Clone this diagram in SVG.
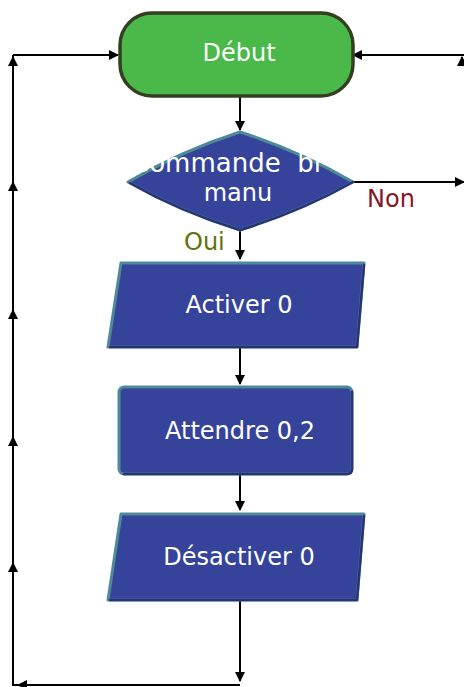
<svg xmlns="http://www.w3.org/2000/svg" width="464" height="687" viewBox="0 0 464 687">
  <style>
    .lbl { font-family: "DejaVu Sans", Verdana, sans-serif; font-size: 24px; fill: #ffffff; text-anchor: middle; }
    .blue { fill: #35439b; stroke: #4f8a98; stroke-width: 3; stroke-linejoin: round; }
    .shade { fill: none; stroke: #2a3275; stroke-width: 2.5; stroke-linecap: round; }
    .wire { fill: none; stroke: #000; stroke-width: 2; }
    .side { font-family: "DejaVu Sans", Verdana, sans-serif; font-size: 24px; }
  </style>
  <defs>
    <marker id="arr" viewBox="0 0 10 10" refX="9" refY="5" markerWidth="5" markerHeight="5" orient="auto">
      <path d="M0,0 L10,5 L0,10 z" fill="#000"/>
    </marker>
  </defs>
  <rect width="464" height="687" fill="#fff"/>

  <g id="connectors">
    <!-- loop-back along the left edge -->
    <path class="wire" d="M240,600 V680"/>
    <path class="wire" d="M240,685 H13 V55"/>
    <path class="wire" marker-end="url(#arr)" d="M13,55 H118"/>
    <path class="wire" marker-end="url(#arr)" d="M13,200 V182"/>
    <path class="wire" marker-end="url(#arr)" d="M13,330 V310"/>
    <path class="wire" marker-end="url(#arr)" d="M13,455 V437"/>
    <path class="wire" marker-end="url(#arr)" d="M13,580 V563"/>
    <path class="wire" marker-end="url(#arr)" d="M13,72 V57"/>
    <path class="wire" marker-end="url(#arr)" d="M30,685 H18"/>
    <path class="wire" marker-end="url(#arr)" d="M240,640 V681"/>
    <!-- right return into Début -->
    <path class="wire" marker-end="url(#arr)" d="M464,55 H353"/>
    <path class="wire" marker-end="url(#arr)" d="M462,66 V57"/>
    <!-- main flow -->
    <path class="wire" marker-end="url(#arr)" d="M240,96 V130"/>
    <path class="wire" marker-end="url(#arr)" d="M353,182 H464"/>
    <path class="wire" marker-end="url(#arr)" d="M240,230 V259"/>
    <path class="wire" marker-end="url(#arr)" d="M240,347 V384"/>
    <path class="wire" marker-end="url(#arr)" d="M240,474 V510"/>
  </g>

  <g id="debut">
    <rect x="120" y="13" width="233" height="83" rx="32" fill="#4bb84a" stroke="#323f20" stroke-width="3.5"/>
    <text class="lbl" x="239" y="61">Début</text>
  </g>

  <g id="decision">
    <!-- rhombus with very slightly bulging sides -->
    <path class="blue" d="M240,132 Q181,151 128,182 Q181,212 240,230 Q299,212 353,182 Q299,151 240,132 Z"/>
    <path class="shade" d="M353,182 Q299,212 240,230 Q181,212 130,183"/>
    <text class="lbl" x="131" y="172" style="text-anchor:start; font-size:26px; white-space:pre">Commande  bi</text>
    <text class="lbl" x="238" y="201">manu</text>
  </g>
  <text class="side" x="367" y="207" fill="#86172a">Non</text>
  <text class="side" x="184" y="250" fill="#62720f">Oui</text>

  <g id="activer">
    <path class="blue" d="M121,263 L364,263 L357,347 L108,347 Z"/>
    <path class="shade" d="M364,265 L357,347 L110,347"/>
    <text class="lbl" x="239" y="313">Activer 0</text>
  </g>

  <g id="attendre">
    <rect class="blue" x="119" y="387" width="233" height="87" rx="5"/>
    <path class="shade" d="M352,392 V469 Q352,474 347,474 H124"/>
    <text class="lbl" x="240" y="439">Attendre 0,2</text>
  </g>

  <g id="desactiver">
    <path class="blue" d="M121,514 L364,514 L357,600 L108,600 Z"/>
    <path class="shade" d="M364,516 L357,600 L110,600"/>
    <text class="lbl" x="239" y="565">Désactiver 0</text>
  </g>
</svg>
